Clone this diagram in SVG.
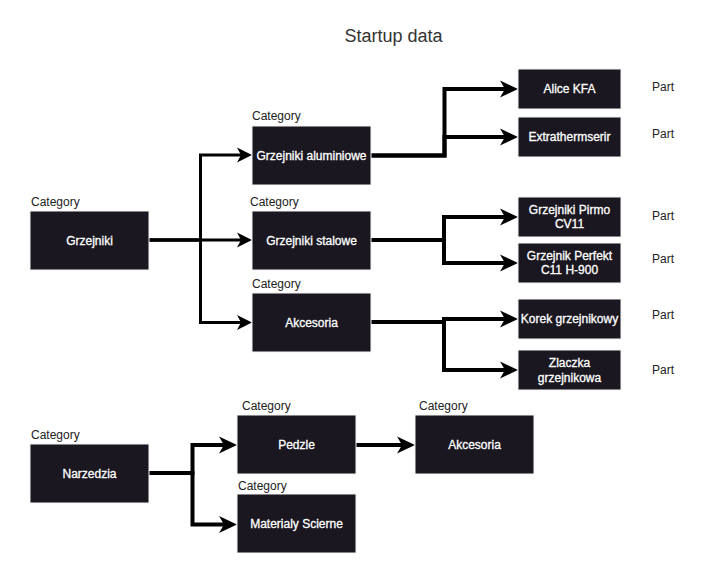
<svg xmlns="http://www.w3.org/2000/svg" width="702" height="574" viewBox="0 0 702 574">
<style>
text{font-family:"Liberation Sans",Arial,Helvetica,sans-serif;}
.box{fill:#1a1720;stroke:#f4f4f4;stroke-width:1;}
.lbl{fill:#ffffff;font-size:12px;text-anchor:middle;stroke:#ffffff;stroke-width:0.3;}
.cat{fill:#222;font-size:12px;}
.part{fill:#222;font-size:12px;}
.title{fill:#333;font-size:18px;text-anchor:middle;}
.c3{fill:none;stroke:#000;stroke-width:3;marker-end:url(#a3);}
.c4{fill:none;stroke:#000;stroke-width:4;marker-end:url(#a4);}
</style>
<defs>
<marker id="a3" markerUnits="userSpaceOnUse" markerWidth="16" markerHeight="16" refX="4" refY="7.5" orient="auto" overflow="visible">
<path d="M0,0 L15,7.5 L0,15 L4,7.5 Z" fill="#000"/>
</marker>
<marker id="a4" markerUnits="userSpaceOnUse" markerWidth="19" markerHeight="18" refX="5" refY="8.5" orient="auto" overflow="visible">
<path d="M0,0 L18,8.5 L0,17 L5,8.5 Z" fill="#000"/>
</marker>
</defs>
<rect width="702" height="574" fill="#fff"/>
<text class="title" x="393.5" y="42">Startup data</text>
<g id="connectors">
<path class="c3" d="M149,240 L241,240"/>
<path class="c3" d="M149,240 L200.5,240 L200.5,155 L241,155"/>
<path class="c3" d="M149,240 L200.5,240 L200.5,322.5 L241,322.5"/>
<path class="c4" d="M371,155.5 L444.5,155.5 L444.5,89 L505,89"/>
<path class="c4" d="M371,155.5 L444.5,155.5 L444.5,137 L505,137"/>
<path class="c4" d="M371,240 L444,240 L444,217 L505,217"/>
<path class="c4" d="M371,240 L444,240 L444,263 L505,263"/>
<path class="c4" d="M371,322 L444,322 L444,319 L505,319"/>
<path class="c4" d="M371,322 L444,322 L444,370 L505,370"/>
<path class="c4" d="M149,473 L192.5,473 L192.5,445 L224,445"/>
<path class="c4" d="M149,473 L192.5,473 L192.5,524.5 L224,524.5"/>
<path class="c4" d="M356,445 L402,445"/>
</g>
<g id="grzejniki">
<text class="cat" x="31" y="206">Category</text>
<rect class="box" x="30" y="211" width="119" height="59"/>
<text class="lbl" x="89.5" y="244.5">Grzejniki</text>
</g>
<g id="aluminiowe">
<text class="cat" x="252" y="120">Category</text>
<rect class="box" x="252" y="126" width="119" height="59"/>
<text class="lbl" x="311.5" y="159.5">Grzejniki aluminiowe</text>
</g>
<g id="stalowe">
<text class="cat" x="250" y="206">Category</text>
<rect class="box" x="252" y="211" width="119" height="59"/>
<text class="lbl" x="311.5" y="244.5">Grzejniki stalowe</text>
</g>
<g id="akcesoria">
<text class="cat" x="252" y="288">Category</text>
<rect class="box" x="252" y="293" width="119" height="59"/>
<text class="lbl" x="311.5" y="326.5">Akcesoria</text>
</g>
<g id="alice">
<rect class="box" x="518" y="69" width="103" height="40"/>
<text class="lbl" x="569.5" y="93">Alice KFA</text>
<text class="part" x="652" y="91">Part</text>
</g>
<g id="extrathermserir">
<rect class="box" x="518" y="117" width="103" height="40"/>
<text class="lbl" x="569.5" y="141">Extrathermserir</text>
<text class="part" x="652" y="138">Part</text>
</g>
<g id="pirmo">
<rect class="box" x="518" y="197" width="103" height="40"/>
<text class="lbl" x="569.5" y="213.5">Grzejniki Pirmo</text>
<text class="lbl" x="569.5" y="227.5">CV11</text>
<text class="part" x="652" y="220">Part</text>
</g>
<g id="perfekt">
<rect class="box" x="518" y="243" width="103" height="40"/>
<text class="lbl" x="569.5" y="259.5">Grzejnik Perfekt</text>
<text class="lbl" x="569.5" y="274">C11 H-900</text>
<text class="part" x="652" y="263">Part</text>
</g>
<g id="korek">
<rect class="box" x="518" y="299" width="103" height="40"/>
<text class="lbl" x="569.5" y="323">Korek grzejnikowy</text>
<text class="part" x="652" y="319">Part</text>
</g>
<g id="zlaczka">
<rect class="box" x="518" y="350" width="103" height="40"/>
<text class="lbl" x="569.5" y="366.5">Zlaczka</text>
<text class="lbl" x="569.5" y="381.5">grzejnikowa</text>
<text class="part" x="652" y="374">Part</text>
</g>
<g id="narzedzia">
<text class="cat" x="31" y="439">Category</text>
<rect class="box" x="30" y="444" width="119" height="59"/>
<text class="lbl" x="89.5" y="477.5">Narzedzia</text>
</g>
<g id="pedzle">
<text class="cat" x="242" y="410">Category</text>
<rect class="box" x="237" y="415" width="119" height="59"/>
<text class="lbl" x="296.5" y="448.5">Pedzle</text>
</g>
<g id="materialy">
<text class="cat" x="238" y="490">Category</text>
<rect class="box" x="237" y="494" width="119" height="59"/>
<text class="lbl" x="296.5" y="528">Materialy Scierne</text>
</g>
<g id="akcesoria2">
<text class="cat" x="419" y="410">Category</text>
<rect class="box" x="415" y="415" width="119" height="59"/>
<text class="lbl" x="474.5" y="448.5">Akcesoria</text>
</g>
</svg>
